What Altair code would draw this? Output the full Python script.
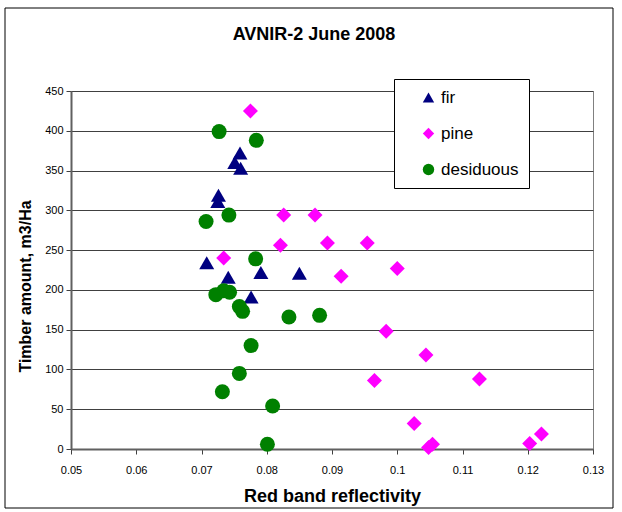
import altair as alt
import pandas as pd

chart_title = "AVNIR-2 June 2008"
series_names = ["fir", "pine", "desiduous"]

fir_x = [0.0759, 0.0751, 0.0760, 0.0726, 0.0725, 0.0708, 0.0741, 0.0791, 0.0776, 0.0850]
fir_y = [372, 360, 353, 319, 311, 234, 216, 222, 191, 221]

pine_x = [0.0775, 0.0826, 0.0874, 0.0821, 0.0893, 0.0954, 0.0734, 0.0914, 0.1000,
          0.0983, 0.1044, 0.0965, 0.1126, 0.1026, 0.1048, 0.1054, 0.1203, 0.1221]
pine_y = [425, 294, 294, 256, 259, 259, 240, 217, 227, 148, 118, 86, 88, 32, 2, 6, 7, 19]

desid_x = [0.0727, 0.0784, 0.0707, 0.0742, 0.0783, 0.0722, 0.0734, 0.0743, 0.0758,
           0.0763, 0.0834, 0.0881, 0.0776, 0.0758, 0.0732, 0.0809, 0.0801]
desid_y = [399, 388, 286, 294, 239, 194, 199, 197, 179, 173, 166, 168, 130, 95, 72, 54, 6]

x_ticks = [0.05, 0.06, 0.07, 0.08, 0.09, 0.10, 0.11, 0.12, 0.13]
y_ticks = [0, 50, 100, 150, 200, 250, 300, 350, 400, 450]

colors = ["#000080", "#FF00FF", "#008000"]
shapes = ["triangle-up", "diamond", "circle"]

rows = []
for name, xs, ys in [("fir", fir_x, fir_y), ("pine", pine_x, pine_y), ("desiduous", desid_x, desid_y)]:
    for xv, yv in zip(xs, ys):
        rows.append({"series": name, "x": xv, "y": yv})
df = pd.DataFrame(rows)

FONT = "Liberation Sans"

points = alt.Chart(df).mark_point(filled=True, opacity=1, size=225).encode(
    x=alt.X("x:Q",
            scale=alt.Scale(domain=[0.05, 0.13], nice=False, zero=False),
            axis=alt.Axis(values=x_ticks, format=".2~f", title="Red band reflectivity",
                          grid=False, tickSize=5, labelPadding=10, labelFontSize=11,
                          labelFlush=False,
                          titleFontSize=18, titleFontWeight="bold",
                          titleY=52, titleBaseline="alphabetic")),
    y=alt.Y("y:Q",
            scale=alt.Scale(domain=[0, 450], nice=False, zero=True),
            axis=alt.Axis(values=y_ticks, title="Timber amount, m3/Ha",
                          grid=True, tickSize=5, labelPadding=3, labelFontSize=11,
                          labelFlush=False,
                          titleFontSize=16, titleFontWeight="bold",
                          titleX=-46, titleY=195, titleAngle=-90,
                          titleBaseline="middle", titleAlign="center")),
    color=alt.Color("series:N",
                    scale=alt.Scale(domain=series_names, range=colors),
                    legend=alt.Legend(title=None, orient="none", legendX=323, legendY=-12,
                                      strokeColor="black", fillColor="white", padding=10,
                                      symbolOffset=16, labelFontSize=17, rowPadding=18,
                                      labelOffset=4, symbolSize=130,
                                      labelExpr="datum.label + '    '")),
    shape=alt.Shape("series:N",
                    scale=alt.Scale(domain=series_names, range=shapes)),
)

frame = alt.Chart(alt.Data(values=[{"a": 1}])).mark_rect(
    fill=None, stroke="black", strokeWidth=1
).encode(
    x=alt.value(-66), x2=alt.value(542), y=alt.value(-83), y2=alt.value(417)
)

title_text = alt.Chart(alt.Data(values=[{"t": chart_title}])).mark_text(
    fontSize=18, fontWeight="bold", font=FONT, color="black",
    align="center", baseline="alphabetic"
).encode(
    text="t:N", x=alt.value(243), y=alt.value(-51)
)

chart = alt.layer(points, frame, title_text).properties(
    width=522, height=358,
    padding={"left": 71, "top": 91, "right": 29, "bottom": 63},
    autosize="none",
).configure(
    font=FONT,
    background="white",
).configure_view(
    stroke="#808080", strokeWidth=1
).configure_axis(
    domainColor="#606060", domainWidth=2, tickColor="#404040",
    gridColor="#404040", gridWidth=1, labelColor="black", titleColor="black",
    labelFont=FONT, titleFont=FONT
).configure_legend(
    labelFont=FONT, labelColor="black"
)

chart.save("out.html", embed_options={"renderer": "svg", "actions": False})
